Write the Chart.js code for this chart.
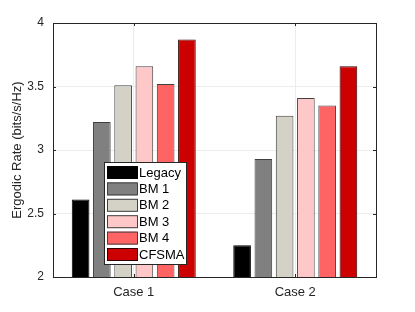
<!DOCTYPE html>
<html>
<head>
<meta charset="utf-8">
<script src="https://cdn.jsdelivr.net/npm/chart.js@4"></script>
<style>
  html, body { margin: 0; padding: 0; background: #fff; }
  canvas { display: block; }
</style>
</head>
<body>
<canvas id="grafico" width="415" height="312"></canvas>
<script>
// data
const casos = ['Case 1', 'Case 2'];
const esquemas = ['Legacy', 'BM 1', 'BM 2', 'BM 3', 'BM 4', 'CFSMA'];
const legacy = [2.61, 2.25];
const bm1 = [3.22, 2.93];
const bm2 = [3.51, 3.27];
const bm3 = [3.66, 3.41];
const bm4 = [3.52, 3.35];
const cfsma = [3.87, 3.66];
const yTicks = [2, 2.5, 3, 3.5, 4];

const colores = ['#000000', '#808080', '#d4d2c7', '#ffc8c8', '#ff6464', '#cc0000'];
const bordes = ['#000000', '#404040', '#404040', '#404040', '#404040', '#300000'];
const series = [legacy, bm1, bm2, bm3, bm4, cfsma];

const FONT = '"Liberation Sans", Arial, Helvetica, sans-serif';
const TXT = '#262626';

// box, inner ticks and legend like the matlab figure
const marco = {
    id: 'marco',
    afterDraw(chart) {
        const ctx = chart.ctx;
        const a = chart.chartArea;
        const y = chart.scales.y;
        const x = chart.scales.x;
        ctx.save();
        ctx.strokeStyle = '#262626';
        ctx.lineWidth = 1;
        ctx.strokeRect(Math.round(a.left) + 0.5, Math.round(a.top) + 0.5,
            Math.round(a.right - a.left), Math.round(a.bottom - a.top));
        ctx.beginPath();
        yTicks.forEach(v => {
            const py = Math.round(y.getPixelForValue(v)) + 0.5;
            ctx.moveTo(a.left, py); ctx.lineTo(a.left + 3, py);
            ctx.moveTo(a.right, py); ctx.lineTo(a.right - 3, py);
        });
        casos.forEach((c, i) => {
            const px = Math.round(x.getPixelForValue(i)) + 0.5;
            ctx.moveTo(px, a.bottom); ctx.lineTo(px, a.bottom - 3);
            ctx.moveTo(px, a.top); ctx.lineTo(px, a.top + 3);
        });
        ctx.stroke();

        // legend
        const lx = 104, ly = 162, lw = 82, lh = 102;
        ctx.fillStyle = '#ffffff';
        ctx.fillRect(lx, ly, lw, lh);
        ctx.strokeStyle = '#262626';
        ctx.strokeRect(lx + 0.5, ly + 0.5, lw, lh);
        ctx.font = '13px ' + FONT;
        ctx.textBaseline = 'middle';
        esquemas.forEach((nombre, i) => {
            const ry = ly + 4 + i * 16.4;
            ctx.fillStyle = colores[i];
            ctx.fillRect(lx + 3, ry, 30, 13);
            ctx.strokeStyle = bordes[i];
            ctx.strokeRect(lx + 3.5, ry + 0.5, 30, 12);
            ctx.fillStyle = '#000';
            ctx.fillText(nombre, lx + 35, ry + 7);
        });
        ctx.restore();
    }
};

const grafico = document.getElementById('grafico');

new Chart(grafico, {
    type: 'bar',
    data: {
        labels: casos,
        datasets: esquemas.map((nombre, i) => ({
            label: nombre,
            data: series[i],
            backgroundColor: colores[i],
            borderColor: bordes[i],
            borderWidth: 1,
            categoryPercentage: 0.79,
            barPercentage: 0.83
        }))
    },
    options: {
        responsive: false,
        animation: false,
        layout: {
            padding: { left: 0, right: 39, top: 23, bottom: 0 }
        },
        plugins: {
            legend: { display: false },
            tooltip: { enabled: false }
        },
        scales: {
            x: {
                grid: { offset: false, color: '#ececec', drawTicks: false },
                border: { display: false },
                ticks: { color: TXT, padding: 8, font: { family: FONT, size: 13 } },
                afterFit(scale) { scale.height = 35; }
            },
            y: {
                min: 2,
                max: 4,
                afterBuildTicks(scale) { scale.ticks = yTicks.map(v => ({ value: v })); },
                grid: { color: '#ececec', drawTicks: false },
                border: { display: false },
                ticks: {
                    color: TXT,
                    padding: 9,
                    font: { family: FONT, size: 12 },
                    callback: v => String(v)
                },
                title: {
                    display: true,
                    text: 'Ergodic Rate (bits/s/Hz)',
                    color: TXT,
                    font: { family: FONT, size: 13 },
                    padding: { top: 10, bottom: 0 }
                },
                afterFit(scale) { scale.width = 53; }
            }
        }
    },
    plugins: [marco]
});
</script>
</body>
</html>
